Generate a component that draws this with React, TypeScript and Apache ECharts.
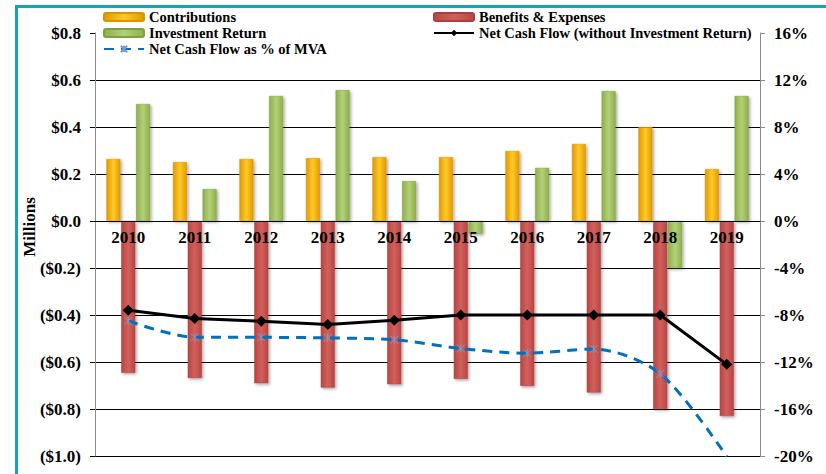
import React, { useEffect, useRef } from "react";
import * as echarts from "echarts";

// Plan years
const years = ["2010", "2011", "2012", "2013", "2014", "2015", "2016", "2017", "2018", "2019"];

// Cash flows, $ millions
const contributions = [0.264, 0.251, 0.264, 0.268, 0.272, 0.272, 0.298, 0.328, 0.4, 0.221];
const benefitsExpenses = [-0.646, -0.668, -0.69, -0.709, -0.695, -0.672, -0.702, -0.73, -0.8, -0.83];
const investmentReturn = [0.498, 0.136, 0.532, 0.557, 0.17, -0.055, 0.226, 0.553, -0.2, 0.532];
const netCashFlow = [-0.38, -0.415, -0.427, -0.44, -0.422, -0.4, -0.4, -0.4, -0.4, -0.61];

// Net cash flow as a percentage of market value of assets
const netCashFlowPctMva = [-8.5, -9.9, -9.9, -9.95, -10.1, -10.85, -11.25, -10.9, -13.0, -20.05];

// Axis ranges
const leftMin = -1.0;
const leftMax = 0.8;
const leftStep = 0.2;
const rightMin = -20;
const rightMax = 16;
const rightStep = 4;

const FONT = '"Liberation Serif", "Times New Roman", serif';

const CHART_W = 826;
const CHART_H = 474;
const GRID = { left: 95, right: 66, top: 33, bottom: 18 };

const hGrad = (edge: string, mid: string) => ({
  type: "linear",
  x: 0,
  y: 0,
  x2: 1,
  y2: 0,
  colorStops: [
    { offset: 0, color: edge },
    { offset: 0.5, color: mid },
    { offset: 1, color: edge },
  ],
});

const barShadow = {
  shadowColor: "rgba(0,0,0,0.35)",
  shadowBlur: 3,
  shadowOffsetX: 1.5,
  shadowOffsetY: 1.5,
};

const fmtMoney = (v: number) => {
  const s = "$" + Math.abs(v).toFixed(1);
  return v < -1e-9 ? "(" + s + ")" : s;
};

export default function App() {
  const ref = useRef<HTMLDivElement>(null);

  useEffect(() => {
    if (!ref.current) return;
    const chart = echarts.init(ref.current, null, { renderer: "svg" });

    // one split line per tick from min to max; the top one stays hidden
    const tickCount = Math.round((leftMax - leftMin) / leftStep) + 1;
    const splitColors: string[] = [];
    for (let i = 0; i < tickCount; i++) splitColors.push(i === tickCount - 1 ? "transparent" : "#000000");

    // lift the category axis from the bottom edge up to the $0 line
    const plotH = CHART_H - GRID.top - GRID.bottom;
    const zeroLift = ((0 - leftMin) / (leftMax - leftMin)) * plotH;

    const legendText = {
      fontFamily: FONT,
      fontWeight: "bold",
      fontSize: 14.5,
      color: "#000",
      lineHeight: 16,
    };

    const option: any = {
      animation: false,
      backgroundColor: "#ffffff",
      grid: { ...GRID, containLabel: false, outerBoundsMode: "none" },
      legend: [
        {
          orient: "vertical",
          left: 103,
          top: 9,
          padding: 0,
          itemGap: 0,
          itemWidth: 40,
          itemHeight: 8,
          textStyle: legendText,
          data: ["Contributions", "Investment Return", "Net Cash Flow as % of MVA"],
        },
        {
          orient: "vertical",
          left: 433,
          top: 9,
          padding: 0,
          itemGap: 0,
          itemWidth: 40,
          itemHeight: 8,
          textStyle: legendText,
          data: ["Benefits & Expenses", "Net Cash Flow (without Investment Return)"],
        },
      ],
      xAxis: {
        type: "category",
        data: years,
        z: 5,
        position: "bottom",
        offset: -zeroLift,
        axisLine: { show: true, onZero: false, lineStyle: { color: "#000", width: 1 } },
        axisTick: { show: false },
        axisLabel: {
          margin: 8,
          fontFamily: FONT,
          fontWeight: "bold",
          fontSize: 17,
          color: "#000",
        },
      },
      yAxis: [
        {
          type: "value",
          min: leftMin,
          max: leftMax,
          interval: leftStep,
          axisLine: { show: true, onZero: false, lineStyle: { color: "#8c8c8c", width: 1 } },
          axisTick: { show: true, length: 5, inside: false, lineStyle: { color: "#000" } },
          splitLine: { show: true, lineStyle: { color: splitColors, width: 1 } },
          axisLabel: {
            margin: 14,
            formatter: fmtMoney,
            fontFamily: FONT,
            fontWeight: "bold",
            fontSize: 17,
            color: "#000",
          },
        },
        {
          type: "value",
          min: rightMin,
          max: rightMax,
          interval: rightStep,
          position: "right",
          axisLine: { show: true, onZero: false, lineStyle: { color: "#8c8c8c", width: 1 } },
          axisTick: { show: true, length: 5, inside: false, lineStyle: { color: "#8c8c8c" } },
          splitLine: { show: false },
          axisLabel: {
            margin: 14,
            formatter: (v: number) => v + "%",
            fontFamily: FONT,
            fontWeight: "bold",
            fontSize: 17,
            color: "#000",
          },
        },
      ],
      graphic: [
        { type: "rect", shape: { x: 15, y: 5, width: 811, height: 3 }, style: { fill: "#17A3B6" }, z: 100 },
        { type: "rect", shape: { x: 15, y: 5, width: 3, height: 469 }, style: { fill: "#17A3B6" }, z: 100 },
        {
          type: "text",
          x: 29,
          y: 227,
          rotation: Math.PI / 2,
          style: {
            text: "Millions",
            fontFamily: FONT,
            fontWeight: "bold",
            fontSize: 17,
            fill: "#000",
            align: "center",
            verticalAlign: "middle",
          },
        },
      ],
      series: [
        {
          name: "Contributions",
          type: "bar",
          yAxisIndex: 0,
          data: contributions,
          barWidth: 14,
          barGap: "6%",
          itemStyle: { color: hGrad("#E09A00", "#FFCA28"), borderColor: "#D99400", borderWidth: 0.5, ...barShadow },
        },
        {
          name: "Benefits & Expenses",
          type: "bar",
          yAxisIndex: 0,
          data: benefitsExpenses,
          barWidth: 14,
          barGap: "6%",
          itemStyle: { color: hGrad("#B94643", "#D2605C"), borderColor: "#A94040", borderWidth: 0.5, ...barShadow },
        },
        {
          name: "Investment Return",
          type: "bar",
          yAxisIndex: 0,
          data: investmentReturn,
          barWidth: 14,
          barGap: "6%",
          itemStyle: { color: hGrad("#8DB04A", "#B4D079"), borderColor: "#7f9f43", borderWidth: 0.5, ...barShadow },
        },
        {
          name: "Net Cash Flow as % of MVA",
          type: "line",
          yAxisIndex: 1,
          data: netCashFlowPctMva,
          smooth: 0.3,
          z: 4,
          symbol: "path://M0,0L8,8M8,0L0,8M4,0L4,8",
          symbolSize: 8,
          lineStyle: { color: "#0070C0", width: 3, type: [10, 7] },
          itemStyle: { color: "#0070C0", borderColor: "#7f9cc8", borderWidth: 1 },
        },
        {
          name: "Net Cash Flow (without Investment Return)",
          type: "line",
          yAxisIndex: 0,
          data: netCashFlow,
          z: 6,
          symbol: "diamond",
          symbolSize: 11,
          lineStyle: { color: "#000", width: 3 },
          itemStyle: { color: "#000" },
        },
      ],
    };

    chart.setOption(option);
    return () => chart.dispose();
  }, []);

  return <div ref={ref} style={{ position: "absolute", left: 0, top: 0, width: CHART_W, height: CHART_H }} />;
}
